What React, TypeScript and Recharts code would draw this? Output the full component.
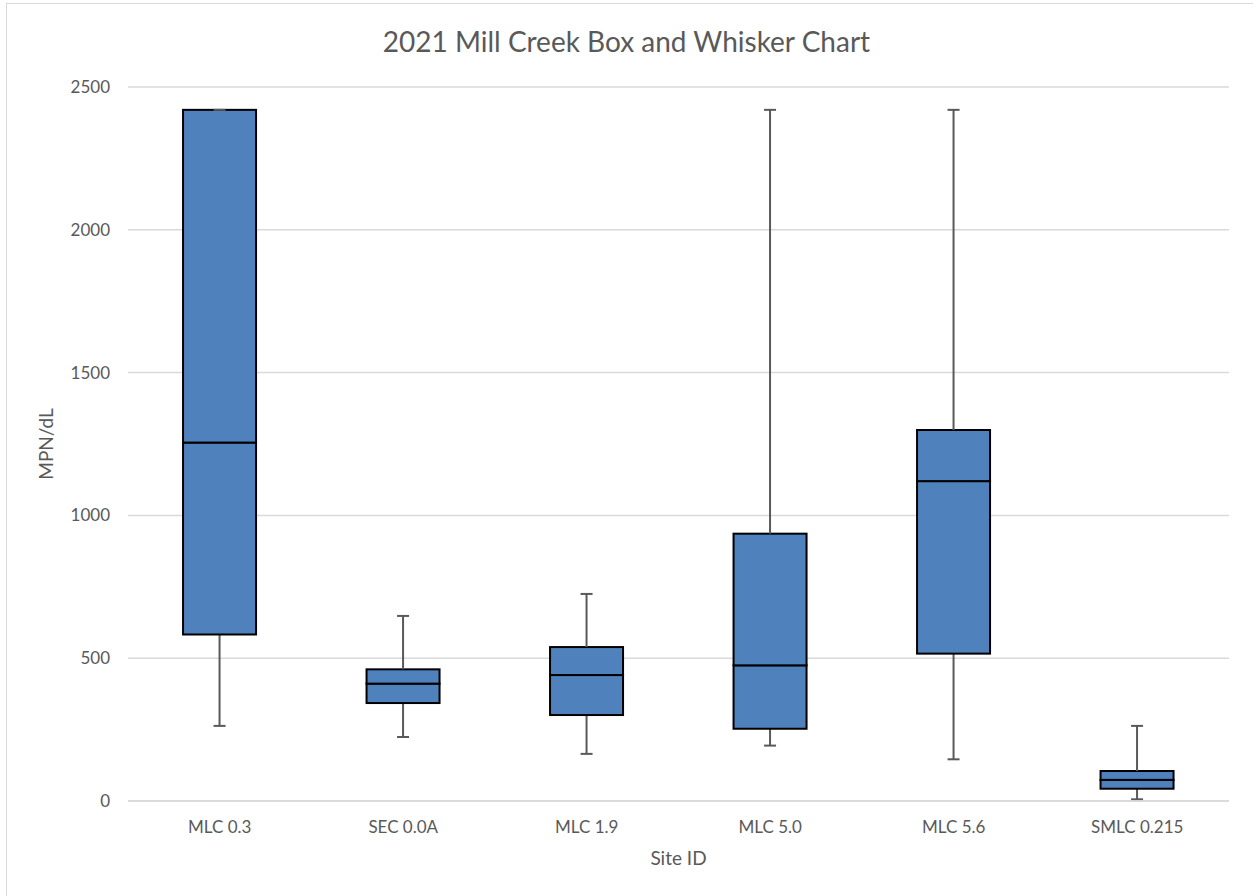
import { ComposedChart, Bar, XAxis, YAxis, CartesianGrid, Label } from "recharts";

// Box-plot statistics per site (MPN/dL)
const sites = ["MLC 0.3", "SEC 0.0A", "MLC 1.9", "MLC 5.0", "MLC 5.6", "SMLC 0.215"];
const minVals = [263, 224, 165, 194, 146, 6];
const q1Vals = [583, 343, 301, 253, 516, 43];
const medianVals = [1255, 411, 441, 475, 1120, 74];
const q3Vals = [2420, 461, 539, 936, 1299, 105];
const maxVals = [2420, 648, 725, 2420, 2420, 263];
const yTicks = [0, 500, 1000, 1500, 2000, 2500];

// stacked segments: base -> lower whisker -> lower box -> upper box -> upper whisker
const data = sites.map((site, i) => ({
  site,
  base: minVals[i],
  lowWhisker: q1Vals[i] - minVals[i],
  lowBox: medianVals[i] - q1Vals[i],
  highBox: q3Vals[i] - medianVals[i],
  highWhisker: maxVals[i] - q3Vals[i],
}));

const FONT = "Lato, 'Open Sans', sans-serif";
const TEXT = "#595959";
const BOX_FILL = "#4f81bd";
const WHISKER = "#595959";
const CAP = 6;

const LowWhisker = (props: any) => {
  const { x, y, width, height } = props;
  const cx = x + width / 2;
  return (
    <g>
      <line x1={cx} x2={cx} y1={y} y2={y + height} stroke={WHISKER} strokeWidth={2} />
      <line x1={cx - CAP} x2={cx + CAP} y1={y + height} y2={y + height} stroke={WHISKER} strokeWidth={2} />
    </g>
  );
};

const HighWhisker = (props: any) => {
  const { x, y, width, height } = props;
  const cx = x + width / 2;
  return (
    <g>
      <line x1={cx} x2={cx} y1={y} y2={y + height} stroke={WHISKER} strokeWidth={2} />
      <line x1={cx - CAP} x2={cx + CAP} y1={y} y2={y} stroke={WHISKER} strokeWidth={2} />
    </g>
  );
};

const BoxPart = (props: any) => {
  const { x, y, width, height } = props;
  return <rect x={x} y={y} width={width} height={height} fill={BOX_FILL} stroke="#000" strokeWidth={2} />;
};

export default function App() {
  return (
    <div
      style={{
        position: "absolute",
        left: 0,
        top: 0,
        width: 1253,
        height: 896,
        background: "#fff",
        fontFamily: FONT,
      }}
    >
      <div
        style={{
          position: "absolute",
          left: 6,
          top: 3,
          width: 1253,
          height: 900,
          border: "1.5px solid #d9d9d9",
          boxSizing: "border-box",
        }}
      />
      <div
        style={{
          position: "absolute",
          top: 24,
          left: 0,
          width: 1253,
          textAlign: "center",
          fontSize: 28,
          color: TEXT,
        }}
      >
        2021 Mill Creek Box and Whisker Chart
      </div>
      <div style={{ position: "absolute", left: 0, top: 0 }}>
        <ComposedChart
          width={1253}
          height={896}
          data={data}
          margin={{ top: 87, right: 24, bottom: 55, left: 68 }}
          barCategoryGap="30%"
        >
          <CartesianGrid vertical={false} stroke="#d9d9d9" strokeWidth={1.5} />
          <XAxis
            dataKey="site"
            axisLine={{ stroke: "#d9d9d9", strokeWidth: 1.5 }}
            tickLine={false}
            tickSize={0}
            tickMargin={20}
            height={40}
            tick={{ fill: TEXT, fontSize: 17, fontFamily: FONT }}
          >
            <Label value="Site ID" position="insideBottom" offset={-24} fill={TEXT} fontSize={19} fontFamily={FONT} />
          </XAxis>
          <YAxis
            domain={[0, 2500]}
            ticks={yTicks}
            axisLine={false}
            tickLine={false}
            tickSize={0}
            tickMargin={18}
            width={60}
            tick={{ fill: TEXT, fontSize: 17, fontFamily: FONT }}
          >
            <Label value="MPN/dL" angle={-90} position="insideLeft" offset={-22} fill={TEXT} fontSize={19} fontFamily={FONT} style={{ textAnchor: "middle" }} />
          </YAxis>
          <Bar dataKey="base" stackId="b" fill="none" isAnimationActive={false} />
          <Bar dataKey="lowWhisker" stackId="b" shape={LowWhisker} isAnimationActive={false} />
          <Bar dataKey="lowBox" stackId="b" shape={BoxPart} isAnimationActive={false} />
          <Bar dataKey="highBox" stackId="b" shape={BoxPart} isAnimationActive={false} />
          <Bar dataKey="highWhisker" stackId="b" shape={HighWhisker} isAnimationActive={false} />
        </ComposedChart>
      </div>
    </div>
  );
}
